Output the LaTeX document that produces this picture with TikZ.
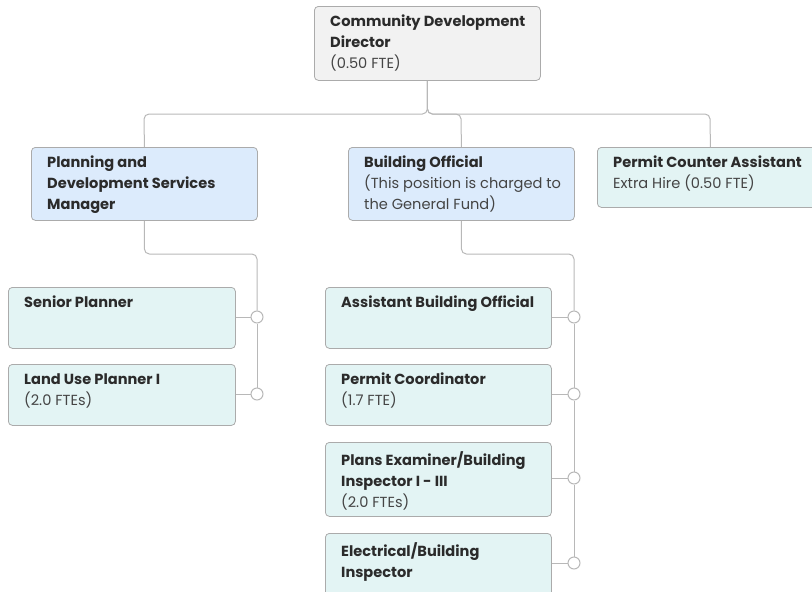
\documentclass[tikz,border=0pt]{standalone}
\usepackage{fontspec}
\setmainfont{Poppins}
\definecolor{txt}{HTML}{2B2B2B}
\definecolor{txtl}{HTML}{444444}
\definecolor{bord}{HTML}{ABABAB}
\definecolor{wire}{HTML}{B8B8B8}
\definecolor{grayf}{HTML}{F2F2F2}
\definecolor{bluef}{HTML}{DCEBFC}
\definecolor{tealf}{HTML}{E3F4F4}
\tikzset{
  box/.style={draw=bord, line width=0.8pt, rounded corners=4pt, anchor=north west, inner sep=0pt},
  lbl/.style={anchor=north west, align=left, inner sep=0pt, text=txt, font=\fontsize{14.6}{21}\selectfont},
  wirestyle/.style={draw=wire, line width=1pt, rounded corners=5pt},
  dot/.style={circle, draw=wire, line width=1pt, fill=white, minimum size=12pt, inner sep=0pt}
}
\newcommand{\sub}[1]{{\color{txtl}\normalfont #1}}
\begin{document}
\begin{tikzpicture}[x=1pt,y=-1pt]
\useasboundingbox (0,0) rectangle (812,592);
\begin{scope}
\clip (0,0) rectangle (812,592);
% boxes
\node[box, fill=grayf, minimum width=226pt, minimum height=74pt] (dir) at (314,6) {};
\node[box, fill=bluef, minimum width=226pt, minimum height=73pt] (plan) at (31,147) {};
\node[box, fill=bluef, minimum width=226pt, minimum height=73pt] (bo) at (348,147) {};
\node[box, fill=tealf, minimum width=226pt, minimum height=60pt] (pca) at (597,147) {};
\node[box, fill=tealf, minimum width=227pt, minimum height=61pt] (sp) at (8,287) {};
\node[box, fill=tealf, minimum width=227pt, minimum height=61pt] (lup) at (8,364) {};
\node[box, fill=tealf, minimum width=226pt, minimum height=61pt] (abo) at (325,287) {};
\node[box, fill=tealf, minimum width=226pt, minimum height=61pt] (pc) at (325,364) {};
\node[box, fill=tealf, minimum width=226pt, minimum height=74pt] (pe) at (325,442) {};
\node[box, fill=tealf, minimum width=226pt, minimum height=74pt] (ebi) at (325,533) {};
% texts
\node[lbl] (tdir) at (330,15) {\bfseries Community Development\\\bfseries Director\\\sub{(0.50 FTE)}};
\node[lbl] (tplan) at (47,156) {\bfseries Planning and\\\bfseries Development Services\\\bfseries Manager};
\node[lbl] (tbo) at (364,156) {\bfseries Building Official\\\sub{(This position is charged to}\\\sub{the General Fund)}};
\node[lbl] (tpca) at (613,156) {\bfseries Permit Counter Assistant\\\sub{Extra Hire (0.50 FTE)}};
\node[lbl] (tsp) at (24,296) {\bfseries Senior Planner};
\node[lbl] (tlup) at (24,373) {\bfseries Land Use Planner I\\\sub{(2.0 FTEs)}};
\node[lbl] (tabo) at (341,296) {\bfseries Assistant Building Official};
\node[lbl] (tpc) at (341,373) {\bfseries Permit Coordinator\\\sub{(1.7 FTE)}};
\node[lbl] (tpe) at (341,451) {\bfseries Plans Examiner/Building\\\bfseries Inspector I - III\\\sub{(2.0 FTEs)}};
\node[lbl] (tebi) at (341,542) {\bfseries Electrical/Building\\\bfseries Inspector};
% top connectors
\coordinate (busL) at (144,114);
\coordinate (busM) at (461,114);
\coordinate (busR) at (710,114);
\draw[wirestyle] (dir.south) |- (busL) -- (plan.north);
\draw[wirestyle] (dir.south) |- (busM) -- (bo.north);
\draw[wirestyle] (dir.south) |- (busR) -- (pca.north);
% circles
\node[dot] (c1) at (257,317) {};
\node[dot] (c2) at (257,394) {};
\node[dot] (c3) at (574,317) {};
\node[dot] (c4) at (574,394) {};
\node[dot] (c5) at (574,478) {};
\node[dot] (c6) at (574,563) {};
% left group
\coordinate (pl1) at (144,254);
\draw[wirestyle] (plan.south) |- (c2.north |- pl1) -- (c1.north);
\draw[wirestyle, rounded corners=0pt] (c1.south) -- (c2.north);
\draw[wirestyle] (sp.east |- c1) -- (c1.west);
\draw[wirestyle] (lup.east |- c2) -- (c2.west);
% right group
\coordinate (pl2) at (461,254);
\draw[wirestyle] (bo.south) |- (c3.north |- pl2) -- (c3.north);
\draw[wirestyle, rounded corners=0pt] (c3.south) -- (c4.north);
\draw[wirestyle, rounded corners=0pt] (c4.south) -- (c5.north);
\draw[wirestyle, rounded corners=0pt] (c5.south) -- (c6.north);
\draw[wirestyle] (abo.east |- c3) -- (c3.west);
\draw[wirestyle] (pc.east |- c4) -- (c4.west);
\draw[wirestyle] (pe.east |- c5) -- (c5.west);
\draw[wirestyle] (ebi.east |- c6) -- (c6.west);
\end{scope}
\end{tikzpicture}
\end{document}
